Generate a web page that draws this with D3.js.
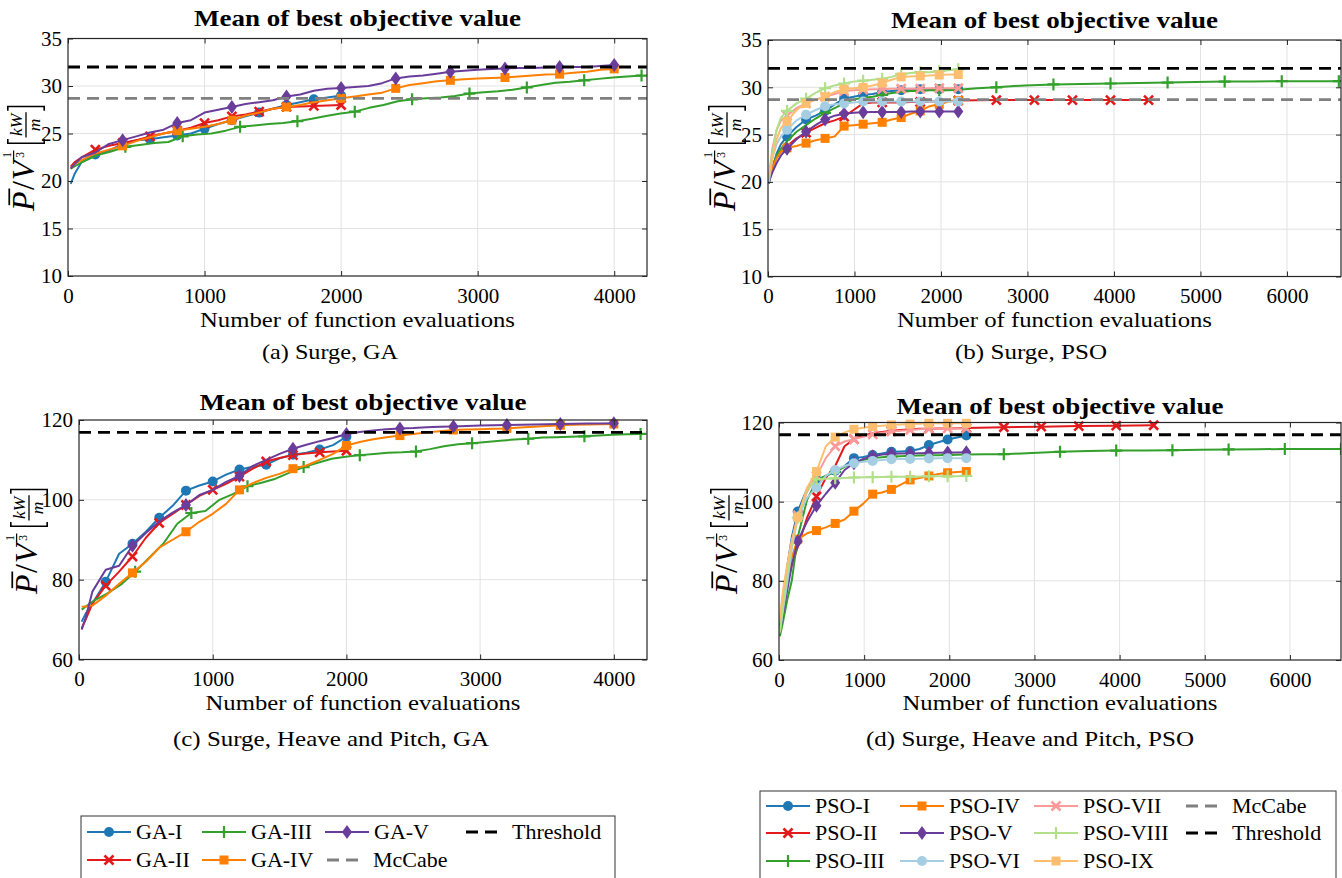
<!DOCTYPE html>
<html>
<head>
<meta charset="utf-8">
<script src="https://cdn.jsdelivr.net/npm/d3@7"></script>
<style>
body{margin:0;background:#fff;}
svg text{font-family:"Liberation Serif","DejaVu Serif",serif;fill:#000;}
</style>
</head>
<body>
<svg id="fig" width="1342" height="878" font-family="Liberation Serif, DejaVu Serif, serif"></svg>
<script>
// ---- evaluation counts (x values) ----
var evalsGA2000 = [20,50,100,200,300,400,500,600,700,800,900,1000,1100,1200,1300,1400,1500,1600,1700,1800,1900,2000];
var evalsGA4000 = [20,50,100,200,300,400,500,600,700,800,900,1000,1100,1200,1300,1400,1500,1600,1700,1800,1900,2000,
    2100,2200,2300,2400,2500,2600,2700,2800,2900,3000,3100,3200,3300,3400,3500,3600,3700,3800,3900,4000];
var evalsGA4200 = [20,105,210,315,420,525,630,735,840,945,1050,1155,1260,1365,1470,1575,1680,1785,1890,1995,
    2100,2205,2310,2415,2520,2625,2730,2835,2940,3045,3150,3255,3360,3465,3570,3675,3780,3885,3990,4095,4200];
var evalsPSO2200 = [10,50,100,150,220,330,440,550,660,770,880,990,1100,1210,1320,1430,1540,1650,1760,1870,1980,2090,2200];
var evalsPSO4400 = [10,50,100,150,220,330,440,550,660,770,880,990,1100,1210,1320,1430,1540,1650,1760,1870,1980,2090,2200,
    2640,3080,3520,3960,4400];
var evalsPSO6600 = [10,50,100,150,220,330,440,550,660,770,880,990,1100,1210,1320,1430,1540,1650,1760,1870,1980,2090,2200,
    2420,2640,2970,3300,3630,3960,4290,4620,4950,5280,5610,5940,6270,6600];

// ---- (a) Surge, GA ----
var gaI_a   = [19.7,20.8,22.0,22.8,23.2,23.9,24.3,24.4,24.6,24.8,25.0,25.5,26.0,26.4,26.8,27.2,27.6,28.0,28.3,28.6,28.8,29.0];
var gaII_a  = [21.5,22.0,22.5,23.3,23.7,24.0,24.3,24.7,25.0,25.3,25.6,26.1,26.4,26.8,27.0,27.3,27.6,27.8,27.85,27.9,27.95,28.0];
var gaIII_a = [21.3,22.0,22.7,23.1,23.6,23.8,24.0,24.1,24.7,24.9,25.0,25.3,25.7,25.85,26.0,26.1,26.3,26.55,26.85,27.1,
    27.3,27.7,28.0,28.4,28.6,28.7,28.8,28.95,29.2,29.35,29.45,29.6,29.85,30.1,30.35,30.45,30.6,30.75,30.9,31.0,31.1];
var gaIV_a  = [21.3,21.8,22.2,22.9,23.3,23.7,24.2,24.6,25.0,25.3,25.5,25.7,26.0,26.4,26.9,27.2,27.6,27.8,28.0,28.3,28.5,28.7,28.9,
    29.1,29.3,29.75,30.1,30.3,30.5,30.6,30.7,30.8,30.85,30.9,31.0,31.1,31.2,31.25,31.4,31.5,31.7,31.8];
var gaV_a   = [21.3,21.8,22.5,23.0,23.9,24.3,24.7,25.1,25.4,26.1,26.4,27.2,27.5,27.8,28.1,28.3,28.5,28.9,29.1,29.5,29.7,29.8,29.9,
    30.0,30.3,30.8,31.0,31.1,31.3,31.5,31.6,31.7,31.8,31.85,31.9,31.9,31.95,32.0,32.0,32.0,32.1,32.2];

// ---- (b) Surge, PSO ----
var psoI_b    = [19.8,21.5,23.0,24.0,24.8,25.8,26.6,27.0,27.5,28.2,28.8,29.0,29.2,29.3,29.5,29.6,29.7,29.75,29.8,29.8,29.8,29.8,29.8];
var psoII_b   = [20.0,21.5,22.6,23.2,23.8,24.6,25.2,25.7,26.2,26.5,26.9,27.6,28.3,28.4,28.4,28.4,28.4,28.45,28.45,28.5,28.5,28.55,28.6,
    28.65,28.65,28.65,28.65,28.65];
var psoIII_b  = [20.0,21.5,22.8,23.5,24.3,25.3,26.0,26.7,27.3,27.8,28.3,28.7,28.9,29.0,29.2,29.4,29.5,29.6,29.6,29.7,29.7,29.7,29.75,
    29.9,30.0,30.2,30.3,30.35,30.4,30.45,30.5,30.55,30.6,30.6,30.65,30.65,30.65];
var psoIV_b   = [20.0,21.5,22.5,23.2,23.6,23.8,24.1,24.4,24.6,24.8,25.9,26.0,26.1,26.2,26.3,26.6,26.8,27.2,27.5,28.0,28.2,28.5,28.6];
var psoV_b    = [20.0,21.0,22.0,22.8,23.5,24.5,25.3,26.0,26.6,27.0,27.2,27.3,27.35,27.4,27.4,27.4,27.4,27.45,27.45,27.45,27.45,27.45,27.45];
var psoVI_b   = [20.0,22.5,24.0,24.8,25.5,26.5,27.1,27.6,28.0,28.2,28.3,28.4,28.5,28.5,28.5,28.5,28.5,28.5,28.5,28.5,28.5,28.5,28.5];
var psoVII_b  = [20.5,23.5,25.5,26.5,27.0,27.8,28.3,28.7,29.0,29.3,29.6,29.7,29.75,29.8,29.8,29.85,29.85,29.85,29.85,29.9,29.9,29.9,29.9];
var psoVIII_b = [20.5,23.0,25.5,26.8,27.5,28.3,28.8,29.4,29.9,30.2,30.4,30.6,30.7,30.8,30.9,31.1,31.4,31.5,31.6,31.6,31.7,31.8,31.9];
var psoIX_b   = [20.5,22.5,24.5,25.7,26.4,27.6,28.3,28.7,29.0,29.5,29.8,29.9,30.0,30.2,30.45,30.8,31.1,31.15,31.2,31.25,31.3,31.35,31.35];

// ---- (c) Surge, Heave and Pitch, GA ----
var gaI_c   = [69.5,71.5,74.0,79.5,86.5,89.0,92.0,95.5,98.5,102.3,103.6,104.6,106.3,107.6,108.3,108.8,110.4,111.3,111.8,112.6,113.7,115.8];
var gaII_c  = [67.8,70.0,74.0,78.5,82.0,85.8,90.5,94.2,96.5,98.7,101.0,102.5,104.0,105.8,107.8,109.6,110.5,111.2,111.6,111.9,112.1,112.3];
var gaIII_c = [72.5,74.6,76.5,78.8,82.0,85.5,89.0,94.0,96.7,97.2,100.0,101.5,103.4,104.3,105.3,106.8,108.2,109.3,110.3,110.8,
    111.2,111.5,111.8,111.9,112.1,112.7,113.4,113.9,114.2,114.5,114.8,115.1,115.3,115.6,115.7,115.8,115.9,116.1,116.3,116.4,116.5];
var gaIV_c  = [73.2,73.3,73.5,76.0,79.0,81.7,84.5,88.0,90.0,92.0,94.5,96.5,99.0,102.5,104.2,105.5,106.5,107.8,108.6,110.0,111.5,113.6,114.5,
    115.2,115.7,116.1,116.5,116.9,117.2,117.5,117.6,117.7,117.8,117.9,118.1,118.3,118.5,118.7,118.8,118.9,118.95,119.0];
var gaV_c   = [67.5,70.5,77.0,82.5,83.5,88.5,91.7,94.6,96.8,98.7,101.2,102.5,104.5,106.0,108.5,110.0,111.5,112.8,113.8,114.7,115.5,116.5,117.0,
    117.4,117.7,117.9,118.0,118.2,118.3,118.4,118.5,118.6,118.7,118.75,118.8,118.9,118.95,119.0,119.05,119.1,119.15,119.2];

// ---- (d) Surge, Heave and Pitch, PSO ----
var psoI_d    = [68,75,84,91,97.5,103.3,105.5,106.5,107.8,109,111,111.3,111.8,112.2,112.6,112.7,112.8,113.3,114.3,115,115.7,116.2,116.7];
var psoII_d   = [68,73,79.5,84,88.5,96,101.3,106,109,114,115.8,116.7,117.3,117.6,117.9,118.1,118.3,118.4,118.45,118.5,118.5,118.55,118.6,
    118.8,118.95,119.1,119.2,119.3];
var psoIII_d  = [66,70,75.5,80,91,100.5,105.3,106.5,107.5,108.8,109.7,110.5,111,111.2,111.4,111.5,111.6,111.65,111.7,111.75,111.8,111.85,111.9,
    111.95,112,112.3,112.6,112.8,112.9,112.95,113,113.1,113.2,113.25,113.3,113.3,113.3];
var psoIV_d   = [68,75,81,86,90.5,92,92.7,93.5,94.5,95.5,97.6,99.5,101.9,102.3,103.1,104.3,105.5,106,106.5,107,107.3,107.5,107.6];
var psoV_d    = [67,72,78,84,90,95,99,102,104.8,108,109.7,110.8,111.5,111.9,112.1,112.15,112.2,112.25,112.3,112.35,112.4,112.45,112.5];
var psoVI_d   = [67,73,80,88,96,101,103.6,106.5,108,109,109.7,110.1,110.3,110.5,110.7,110.75,110.8,110.85,110.9,110.95,111,111,111];
var psoVII_d  = [70,77,84,90,96.5,102.5,106.5,111,114,115.2,115.8,116.4,117,117.4,117.7,117.9,118.1,118.3,118.4,118.45,118.5,118.5,118.5];
var psoVIII_d = [67,74,82,89,96,103,105.7,105.8,105.9,106,106.1,106.15,106.2,106.25,106.3,106.3,106.3,106.35,106.4,106.4,106.4,106.45,106.5];
var psoIX_d   = [70.5,78,84.5,90,96,103.5,107.6,114,116.3,117.5,118.3,118.7,119,119.2,119.4,119.5,119.6,119.7,119.8,119.8,119.8,119.8,119.8];

// reference levels
var thresholdSurge = 32.0, mccabeSurge = 28.7, thresholdSHP = 116.9;

var yTicksSurge = [10,15,20,25,30,35];
var yTicksSHP = [60,80,100,120];
var xTicks = [0,1000,2000,3000,4000,5000,6000];

// ---- styles ----
var FONT = '"Liberation Serif","DejaVu Serif",serif';
var colors = {"I":"#1f78b4","II":"#e31a1c","III":"#33a02c","IV":"#ff7f00","V":"#6a3d9a",
              "VI":"#a6cee3","VII":"#fb9a99","VIII":"#b2df8a","IX":"#fdbf6f"};
var shapes = {"I":"circle","II":"cross","III":"plus","IV":"square","V":"diamond",
              "VI":"circle","VII":"cross","VIII":"plus","IX":"square"};

function mk(prefix, num, evals, vals, mstep){
    return {name:prefix+"-"+num, num:num, pts:evals.map(function(e,i){ return [e, vals[i]]; }), mstep:mstep};
}

var panels = [
  {l:68, r:647, t:38.5, b:276, xmax:4240, ymin:10, ymax:35, yticks:yTicksSurge,
   titleY:26, xlabY:327, cap:"(a) Surge, GA", capX:330, capY:359, capW:136, ylabX:34, ylabY:158,
   thr:thresholdSurge, mc:mccabeSurge,
   series:[mk("GA","I",evalsGA2000,gaI_a,200), mk("GA","II",evalsGA2000,gaII_a,200),
           mk("GA","III",evalsGA4200,gaIII_a,420), mk("GA","IV",evalsGA4000,gaIV_a,400),
           mk("GA","V",evalsGA4000,gaV_a,400)]},
  {l:768, r:1341, t:40, b:276.5, xmax:6625, ymin:10, ymax:35, yticks:yTicksSurge,
   titleY:28, xlabY:327, cap:"(b) Surge, PSO", capX:1031, capY:359, capW:152, ylabX:735, ylabY:158,
   thr:thresholdSurge, mc:mccabeSurge,
   series:[mk("PSO","I",evalsPSO2200,psoI_b,220), mk("PSO","II",evalsPSO4400,psoII_b,440),
           mk("PSO","III",evalsPSO6600,psoIII_b,660), mk("PSO","IV",evalsPSO2200,psoIV_b,220),
           mk("PSO","V",evalsPSO2200,psoV_b,220), mk("PSO","VI",evalsPSO2200,psoVI_b,220),
           mk("PSO","VII",evalsPSO2200,psoVII_b,220), mk("PSO","VIII",evalsPSO2200,psoVIII_b,220),
           mk("PSO","IX",evalsPSO2200,psoIX_b,220)]},
  {l:79, r:647, t:420, b:659.5, xmax:4248, ymin:60, ymax:120, yticks:yTicksSHP,
   titleY:410, xlabY:710, cap:"(c) Surge, Heave and Pitch, GA", capX:331, capY:746, capW:316, ylabX:37, ylabY:541,
   thr:thresholdSHP, mc:null,
   series:[mk("GA","I",evalsGA2000,gaI_c,200), mk("GA","II",evalsGA2000,gaII_c,200),
           mk("GA","III",evalsGA4200,gaIII_c,420), mk("GA","IV",evalsGA4000,gaIV_c,400),
           mk("GA","V",evalsGA4000,gaV_c,400)]},
  {l:779, r:1341, t:422.5, b:660, xmax:6600, ymin:60, ymax:120, yticks:yTicksSHP,
   titleY:414, xlabY:710, cap:"(d) Surge, Heave and Pitch, PSO", capX:1030, capY:746, capW:328, ylabX:737, ylabY:541,
   thr:thresholdSHP, mc:null,
   series:[mk("PSO","I",evalsPSO2200,psoI_d,220), mk("PSO","II",evalsPSO4400,psoII_d,440),
           mk("PSO","III",evalsPSO6600,psoIII_d,660), mk("PSO","IV",evalsPSO2200,psoIV_d,220),
           mk("PSO","V",evalsPSO2200,psoV_d,220), mk("PSO","VI",evalsPSO2200,psoVI_d,220),
           mk("PSO","VII",evalsPSO2200,psoVII_d,220), mk("PSO","VIII",evalsPSO2200,psoVIII_d,220),
           mk("PSO","IX",evalsPSO2200,psoIX_d,220)]}
];

var svg = d3.select("#fig");

/**
 * draws one marker symbol centred on (cx,cy)
 */
function drawMarker(g, shape, color, cx, cy){
    if (shape == "circle") {
        g.append("circle").attr("cx",cx).attr("cy",cy).attr("r",5).attr("fill",color);
    } else if (shape == "square") {
        g.append("rect").attr("x",cx-4.5).attr("y",cy-4.5).attr("width",9).attr("height",9).attr("fill",color);
    } else if (shape == "diamond") {
        g.append("path").attr("d","M"+cx+","+(cy-7)+"l5,7l-5,7l-5,-7z").attr("fill",color);
    } else if (shape == "cross") {
        g.append("path").attr("d","M"+(cx-4.5)+","+(cy-4.5)+"l9,9m-9,0l9,-9")
            .attr("stroke",color).attr("stroke-width",2.6).attr("fill","none");
    } else {
        g.append("path").attr("d","M"+(cx-6)+","+cy+"h12m-6,-6v12")
            .attr("stroke",color).attr("stroke-width",2.2).attr("fill","none");
    }
}

/**
 * y label  P/V^(1/3) [kW/m], rotated
 */
function drawYLabel(bx, cy){
    var g = svg.append("g");
    var inner = g.append("g");
    var cur = 0;
    function put(txt, size, italic, dx, dy){
        var t = inner.append("text").attr("x",cur+dx).attr("y",dy).attr("font-family",FONT).style("font-family",FONT)
            .style("font-size",size+"px").style("font-style",italic?"italic":"normal").text(txt);
        return t.node().getComputedTextLength();
    }
    var wP = put("P",22,true,0,0);
    inner.append("line").attr("x1",cur+4).attr("x2",cur+wP+2).attr("y1",-17).attr("y2",-17)
        .attr("stroke","#000").attr("stroke-width",1.2);
    cur += wP + 1;
    cur += put("/",22,false,0,0) + 0.5;
    cur += put("V",22,true,0,0) + 1;
    // superscript fraction 1/3
    put("1",8,false,1,-16);
    put("3",8,false,1,-7);
    inner.append("line").attr("x1",cur).attr("x2",cur+6).attr("y1",-14).attr("y2",-14)
        .attr("stroke","#000").attr("stroke-width",0.8);
    cur += 10;
    // left bracket
    inner.append("path").attr("d","M"+(cur+4)+",-18h-3v25h3").attr("fill","none").attr("stroke","#000").attr("stroke-width",1.1);
    cur += 6;
    var wk = put("kW",12,true,0,-8);
    inner.append("line").attr("x1",cur-1).attr("x2",cur+wk+1).attr("y1",-5.5).attr("y2",-5.5)
        .attr("stroke","#000").attr("stroke-width",0.9);
    inner.append("text").attr("x",cur+wk/2).attr("y",4).attr("text-anchor","middle").attr("font-family",FONT)
        .style("font-size","12px").style("font-style","italic").style("font-family",FONT).text("m");
    cur += wk + 2;
    inner.append("path").attr("d","M"+cur+",-18h3v25h-3").attr("fill","none").attr("stroke","#000").attr("stroke-width",1.1);
    cur += 4;
    var k = 106 / cur;
    inner.attr("transform","translate("+(-cur/2)+",0)");
    g.attr("transform","translate("+bx+","+cy+") rotate(-90) scale("+k+")");
}

/**
 * one subplot
 */
function drawPanel(p){
    var x = d3.scaleLinear().domain([0,p.xmax]).range([p.l,p.r]);
    var y = d3.scaleLinear().domain([p.ymin,p.ymax]).range([p.b,p.t]);
    var xt = xTicks.filter(function(d){ return d <= p.xmax; });
    var g = svg.append("g");

    // grid
    g.append("g").selectAll("line").data(xt.slice(1)).enter().append("line")
        .attr("x1",function(d){ return x(d); }).attr("x2",function(d){ return x(d); })
        .attr("y1",p.t).attr("y2",p.b).attr("stroke","#e2e2e2").attr("stroke-width",1);
    g.append("g").selectAll("line").data(p.yticks.slice(1,-1)).enter().append("line")
        .attr("y1",function(d){ return y(d); }).attr("y2",function(d){ return y(d); })
        .attr("x1",p.l).attr("x2",p.r).attr("stroke","#e2e2e2").attr("stroke-width",1);

    var clipId = "clip"+Math.round(p.l)+"_"+Math.round(p.t);
    svg.append("clipPath").attr("id",clipId).append("rect")
        .attr("x",p.l).attr("y",p.t-8).attr("width",p.r-p.l).attr("height",p.b-p.t+8);
    var plot = g.append("g").attr("clip-path","url(#"+clipId+")");

    var line = d3.line().x(function(d){ return x(d[0]); }).y(function(d){ return y(d[1]); });

    p.series.forEach(function(s){
        var sg = plot.append("g");
        sg.append("path").datum(s.pts).attr("d",line).attr("fill","none")
            .attr("stroke",colors[s.num]).attr("stroke-width",2).attr("stroke-linejoin","round");
        s.pts.filter(function(d){ return d[0] % s.mstep === 0; }).forEach(function(d){
            drawMarker(sg, shapes[s.num], colors[s.num], x(d[0]), y(d[1]));
        });
    });

    // reference lines
    if (p.mc !== null) {
        plot.append("line").attr("x1",p.l).attr("x2",p.r).attr("y1",y(p.mc)).attr("y2",y(p.mc))
            .attr("stroke","#808080").attr("stroke-width",2.8).attr("stroke-dasharray","12,7");
    }
    plot.append("line").attr("x1",p.l).attr("x2",p.r).attr("y1",y(p.thr)).attr("y2",y(p.thr))
        .attr("stroke","#000").attr("stroke-width",2.8).attr("stroke-dasharray","12,7");

    // axes, ticks inward on all four sides
    g.append("g").attr("transform","translate(0,"+p.b+")")
        .call(d3.axisBottom(x).tickValues(xt).tickFormat(d3.format("d")).tickSize(-5).tickPadding(12));
    g.append("g").attr("transform","translate("+p.l+",0)")
        .call(d3.axisLeft(y).tickValues(p.yticks).tickSize(-5).tickPadding(6));
    g.append("g").attr("transform","translate(0,"+p.t+")")
        .call(d3.axisTop(x).tickValues(xt).tickSize(-5).tickFormat(""));
    g.append("g").attr("transform","translate("+p.r+",0)")
        .call(d3.axisRight(y).tickValues(p.yticks).tickSize(-5).tickFormat(""));
    g.selectAll(".domain").remove();
    g.selectAll("g").attr("font-family",FONT);
    g.selectAll(".tick line").attr("stroke","#262626").attr("stroke-width",1);
    g.selectAll(".tick text").style("font-size","21px").attr("fill","#1a1a1a");
    g.append("rect").attr("x",p.l).attr("y",p.t).attr("width",p.r-p.l).attr("height",p.b-p.t)
        .attr("fill","none").attr("stroke","#262626").attr("stroke-width",1.2);

    var cx = (p.l + p.r) / 2;
    g.append("text").attr("x",cx).attr("y",p.titleY).attr("text-anchor","middle")
        .style("font-size","24px").style("font-weight","bold")
        .attr("textLength",327).attr("lengthAdjust","spacingAndGlyphs").text("Mean of best objective value");
    g.append("text").attr("x",cx).attr("y",p.xlabY).attr("text-anchor","middle")
        .style("font-size","22px").attr("textLength",315).attr("lengthAdjust","spacingAndGlyphs")
        .text("Number of function evaluations");
    g.append("text").attr("x",p.capX).attr("y",p.capY).attr("text-anchor","middle")
        .style("font-size","22px").attr("textLength",p.capW).attr("lengthAdjust","spacingAndGlyphs")
        .text(p.cap);
    drawYLabel(p.ylabX, p.ylabY);
}

panels.forEach(drawPanel);

// ---- legends ----
var gaLegend = [
    {label:"GA-I", num:"I", col:0, row:0}, {label:"GA-II", num:"II", col:0, row:1},
    {label:"GA-III", num:"III", col:1, row:0}, {label:"GA-IV", num:"IV", col:1, row:1},
    {label:"GA-V", num:"V", col:2, row:0}, {label:"McCabe", ref:"#808080", col:2, row:1},
    {label:"Threshold", ref:"#000", col:3, row:0}];
var psoLegend = [
    {label:"PSO-I", num:"I", col:0, row:0}, {label:"PSO-II", num:"II", col:0, row:1}, {label:"PSO-III", num:"III", col:0, row:2},
    {label:"PSO-IV", num:"IV", col:1, row:0}, {label:"PSO-V", num:"V", col:1, row:1}, {label:"PSO-VI", num:"VI", col:1, row:2},
    {label:"PSO-VII", num:"VII", col:2, row:0}, {label:"PSO-VIII", num:"VIII", col:2, row:1}, {label:"PSO-IX", num:"IX", col:2, row:2},
    {label:"McCabe", ref:"#808080", col:3, row:0}, {label:"Threshold", ref:"#000", col:3, row:1}];

function drawLegend(items, box, cols, rows){
    var g = svg.append("g");
    g.append("rect").attr("x",box[0]).attr("y",box[1]).attr("width",box[2]).attr("height",box[3])
        .attr("fill","#fff").attr("stroke","#333").attr("stroke-width",1);
    items.forEach(function(it){
        var lx = cols[it.col], ly = rows[it.row];
        if (it.ref) {
            g.append("line").attr("x1",lx+2).attr("x2",lx+33).attr("y1",ly).attr("y2",ly)
                .attr("stroke",it.ref).attr("stroke-width",2.8).attr("stroke-dasharray","12,7");
        } else {
            g.append("line").attr("x1",lx).attr("x2",lx+44).attr("y1",ly).attr("y2",ly)
                .attr("stroke",colors[it.num]).attr("stroke-width",2);
            drawMarker(g, shapes[it.num], colors[it.num], lx+22, ly);
        }
        g.append("text").attr("x",lx+(it.ref?48:49)).attr("y",ly+7).style("font-size","22px").text(it.label);
    });
}

drawLegend(gaLegend, [81,816,534,80], [87,202,325,464], [832,860]);
drawLegend(psoLegend, [760,791,576,100], [766,900,1034,1184], [806,833,861]);

// make sure every label uses the serif face
svg.selectAll("text").attr("font-family",FONT).style("font-family",FONT);
</script>
</body>
</html>
